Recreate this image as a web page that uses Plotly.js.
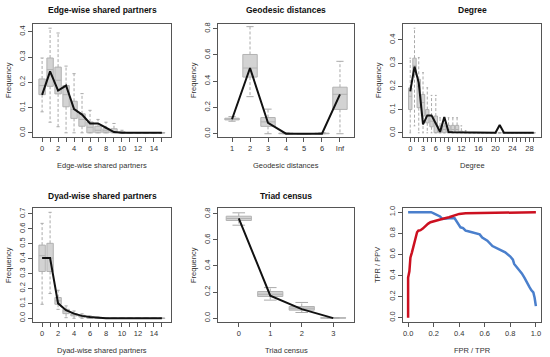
<!DOCTYPE html>
<html><head><meta charset="utf-8">
<script src="https://cdn.plot.ly/plotly-3.0.1.min.js"></script>
<style>body{margin:0;background:#fff}#chart{width:550px;height:357px}</style>
</head><body><div id="chart"></div>
<script>
// ---- Edge-wise shared partners ----
const espX    = [0,1,2,3,4,5,6,7,8,9,10,11,12,13,14,15];
const espLine = [0.150,0.243,0.167,0.187,0.094,0.072,0.037,0.037,0.020,0.003,0,0,0,0,0,0];
const espLow  = [0.083,0.042,0.024,0,0,0,0,0,0,0,0,0,0,0,0,0];
const espQ1   = [0.151,0.184,0.154,0.103,0.057,0.026,0,0,0,0,0,0,0,0,0,0];
const espMed  = [0.187,0.250,0.208,0.151,0.092,0.053,0.022,0.010,0.008,0.003,0,0,0,0,0,0];
const espQ3   = [0.213,0.296,0.260,0.187,0.125,0.075,0.043,0.026,0.016,0.016,0.004,0,0,0,0,0];
const espHigh = [0.296,0.414,0.395,0.264,0.234,0.155,0.089,0.053,0.042,0.037,0.010,0,0,0,0,0];
const espTickText = ['0','','2','','4','','6','','8','','10','','12','','14',''];

// ---- Geodesic distances ----
const geoX    = [1,2,3,4,5,6,7];
const geoTickText = ['1','2','3','4','5','6','Inf'];
const geoLine = [0.110,0.500,0.082,0,0,0,0.300];
const geoLow  = [0.095,0.282,0,0,0,0,0];
const geoQ1   = [0.105,0.431,0.056,0,0,0,0.185];
const geoMed  = [0.112,0.500,0.090,0.002,0,0.002,0.300];
const geoQ3   = [0.118,0.603,0.123,0.004,0,0.004,0.354];
const geoHigh = [0.130,0.815,0.187,0.008,0,0.008,0.551];

// ---- Degree ----
const degX    = [0,1,2,3,4,5,6,7,8,9,10,11,12,13,14,15,16,17,18,19,20,21,22,23,24,25,26,27,28,29];
const degLine = [0.178,0.285,0.215,0.036,0.075,0.075,0.040,0.004,0.068,0.003,0.002,0.002,0,0,0,0,0,0,0,0,0,0.034,0,0,0,0,0,0,0,0];
const degLow  = [0,0.030,0,0,0,0,0,0,0,0,0,0,0,0,0,0,0,0,0,0,0,0,0,0,0,0,0,0,0,0];
const degQ1   = [0.100,0.250,0.108,0.072,0.043,0.026,0,0,0,0,0,0,0,0,0,0,0,0,0,0,0,0,0,0,0,0,0,0,0,0];
const degMed  = [0.157,0.290,0.200,0.130,0.072,0.050,0.043,0.014,0.014,0.014,0.014,0.014,0.003,0,0,0,0,0,0,0,0,0,0,0,0,0,0,0,0,0];
const degQ3   = [0.193,0.321,0.230,0.165,0.100,0.072,0.072,0.029,0.029,0.032,0.032,0.032,0.007,0.003,0,0,0,0,0,0,0,0,0,0,0,0,0,0,0,0];
const degHigh = [0.321,0.450,0.324,0.259,0.194,0.161,0.161,0.065,0.065,0.065,0.065,0.065,0.030,0.010,0,0,0,0,0,0,0,0,0,0,0,0,0,0,0,0];
const degTickText = ['0','','','3','','','6','','','9','','','12','','','','16','','','','20','','','','24','','','','28',''];

// ---- Dyad-wise shared partners ----
const dspX    = [0,1,2,3,4,5,6,7,8,9,10,11,12,13,14,15];
const dspLine = [0.404,0.404,0.100,0.054,0.031,0.016,0.009,0.004,0,0,0,0,0,0,0,0];
const dspLow  = [0.094,0.166,0.060,0.004,0,0,0,0,0,0,0,0,0,0,0,0];
const dspQ1   = [0.314,0.314,0.094,0.031,0.016,0.008,0,0,0,0,0,0,0,0,0,0];
const dspMed  = [0.420,0.404,0.117,0.049,0.025,0.012,0.004,0,0,0,0,0,0,0,0,0];
const dspQ3   = [0.491,0.503,0.139,0.060,0.031,0.020,0.008,0.003,0,0,0,0,0,0,0,0];
const dspHigh = [0.637,0.711,0.188,0.083,0.049,0.030,0.016,0.008,0,0,0,0,0,0,0,0];

// ---- Triad census ----
const triX    = [0,1,2,3];
const triLine = [0.766,0.172,0.069,0];
const triLow  = [0.713,0.138,0.043,0];
const triQ1   = [0.749,0.166,0.061,0];
const triMed  = [0.764,0.183,0.076,0.001];
const triQ3   = [0.782,0.204,0.089,0.002];
const triHigh = [0.808,0.234,0.120,0.004];

// ---- ROC / PR ----
const rocFpr = [0,0,0.010,0.018,0.030,0.045,0.058,0.070,0.080,0.097,0.115,0.136,0.155,0.175,0.200,0.240,0.280,0.320,0.360,0.400,0.450,0.550,0.660,0.760,0.870,1.0];
const rocTpr = [0,0.38,0.44,0.57,0.62,0.70,0.76,0.81,0.825,0.83,0.845,0.87,0.89,0.905,0.915,0.927,0.94,0.952,0.968,0.984,0.99,0.992,0.994,0.996,1.0,1.0];
const prTpr = [0,0.05,0.10,0.15,0.18,0.20,0.228,0.250,0.267,0.290,0.306,0.340,0.364,0.385,0.410,0.430,0.450,0.470,0.500,0.540,0.560,0.580,0.620,0.660,0.710,0.760,0.800,0.820,0.830,0.850,0.870,0.890,0.910,0.930,0.950,0.965,0.980,0.990,1.0];
const prPpv = [1.0,1.0,1.0,1.0,1.0,0.99,0.975,0.96,0.937,0.94,0.943,0.945,0.943,0.905,0.857,0.85,0.825,0.82,0.81,0.79,0.79,0.76,0.73,0.68,0.65,0.62,0.58,0.55,0.51,0.48,0.46,0.42,0.38,0.33,0.29,0.26,0.24,0.19,0.11];

const W = 550, H = 357;
const traces = [];
const layout = {
  width: W, height: H, margin: {l:0, r:0, t:0, b:0},
  paper_bgcolor: '#fff', plot_bgcolor: '#fff', showlegend: false,
  font: {family: 'Liberation Sans, Arial, sans-serif', size: 7.5, color: '#333'},
  annotations: []
};
const frameColor = '#555';

function axisPair(id, px0, px1, py0, py1, xr, yr, xt, yt) {
  const xk = 'xaxis' + id, yk = 'yaxis' + id;
  const xa = 'x' + id, ya = 'y' + id;
  layout[xk] = {
    domain: [px0 / W, px1 / W], range: xr, anchor: ya,
    showline: true, mirror: true, linecolor: frameColor, linewidth: 1,
    ticks: 'outside', ticklen: 4, tickcolor: frameColor, tickwidth: 1,
    showgrid: false, zeroline: false, fixedrange: true,
    tickvals: xt.vals, ticktext: xt.text, tickfont: {size: 7.5, color: '#333'}
  };
  layout[yk] = {
    domain: [1 - py1 / H, 1 - py0 / H], range: yr, anchor: xa,
    showline: true, mirror: true, linecolor: frameColor, linewidth: 1,
    ticks: 'outside', ticklen: 4, tickcolor: frameColor, tickwidth: 1,
    showgrid: false, zeroline: false, fixedrange: true,
    tickvals: yt, tickformat: '.1f', tickangle: -90, tickfont: {size: 7.5, color: '#333'}
  };
  return [xa, ya];
}

function boxPanel(id, xs, low, q1, med, q3, high, line) {
  const xa = 'x' + id, ya = 'y' + id;
  traces.push({
    type: 'box', orientation: 'v', x: xs, q1: q1, median: med, q3: q3,
    lowerfence: q1, upperfence: q3, width: 0.8, whiskerwidth: 0,
    boxpoints: false, fillcolor: '#d3d3d3', line: {color: '#b2b2b2', width: 1},
    xaxis: xa, yaxis: ya, hoverinfo: 'skip', showlegend: false
  });
  const wx = [], wy = [], cx = [], cy = [];
  xs.forEach((x, i) => {
    wx.push(x, x, null, x, x, null);
    wy.push(q3[i], high[i], null, q1[i], low[i], null);
    cx.push(x - 0.2, x + 0.2, null, x - 0.2, x + 0.2, null);
    cy.push(high[i], high[i], null, low[i], low[i], null);
  });
  traces.push({type: 'scatter', mode: 'lines', x: wx, y: wy, xaxis: xa, yaxis: ya,
    line: {color: '#aaaaaa', width: 1, dash: '3px,2px'}, hoverinfo: 'skip', connectgaps: false});
  traces.push({type: 'scatter', mode: 'lines', x: cx, y: cy, xaxis: xa, yaxis: ya,
    line: {color: '#aaaaaa', width: 1}, hoverinfo: 'skip', connectgaps: false});
  traces.push({type: 'scatter', mode: 'lines', x: xs, y: line, xaxis: xa, yaxis: ya,
    line: {color: '#111', width: 2}, hoverinfo: 'skip'});
}

function ann(text, px, py, size, bold, angle) {
  layout.annotations.push({
    text: bold ? '<b>' + text + '</b>' : text, xref: 'paper', yref: 'paper',
    x: px / W, y: 1 - py / H, xanchor: 'center', yanchor: 'middle',
    showarrow: false, textangle: angle || 0,
    font: {size: size, color: bold ? '#111' : '#333'}
  });
}

const t1 = [0, 0.1, 0.2, 0.3, 0.4];
const t2 = [0, 0.2, 0.4, 0.6, 0.8];
const t4 = [0, 0.1, 0.2, 0.3, 0.4, 0.5, 0.6, 0.7];
const t6 = [0, 0.2, 0.4, 0.6, 0.8, 1.0];

// Panel 1
axisPair('', 33, 171, 24, 137, [-1.14, 16.14], [-0.0166, 0.4306], {vals: espX, text: espTickText}, t1);
boxPanel('', espX, espLow, espQ1, espMed, espQ3, espHigh, espLine);
// Panel 2
axisPair('2', 218, 354, 24, 137, [0.22, 7.78], [-0.025, 0.835], {vals: geoX, text: geoTickText}, t2);
boxPanel('2', geoX, geoLow, geoQ1, geoMed, geoQ3, geoHigh, geoLine);
// Panel 3
axisPair('3', 403, 541, 24, 137, [-1.7, 30.7], [-0.018, 0.468], {vals: degX, text: degTickText}, t1);
boxPanel('3', degX, degLow, degQ1, degMed, degQ3, degHigh, degLine);
// Panel 4
axisPair('4', 33, 171, 208, 322, [-1.14, 16.14], [-0.025, 0.74], {vals: dspX, text: espTickText}, t4);
boxPanel('4', dspX, dspLow, dspQ1, dspMed, dspQ3, dspHigh, dspLine);
// Panel 5
axisPair('5', 218, 354, 208, 322, [-0.66, 3.66], [-0.03, 0.845], {vals: triX, text: ['0','1','2','3']}, t2);
boxPanel('5', triX, triLow, triQ1, triMed, triQ3, triHigh, triLine);
// Panel 6
axisPair('6', 403, 541, 208, 322, [-0.04, 1.04], [-0.04, 1.04], {vals: t6, text: t6.map(v => v.toFixed(1))}, t6);
traces.push({type: 'scatter', mode: 'lines', x: prTpr, y: prPpv, xaxis: 'x6', yaxis: 'y6',
  line: {color: '#4a7fcc', width: 2.5}, hoverinfo: 'skip'});
traces.push({type: 'scatter', mode: 'lines', x: rocFpr, y: rocTpr, xaxis: 'x6', yaxis: 'y6',
  line: {color: '#cc1020', width: 2.5}, hoverinfo: 'skip'});

// Titles and axis labels
ann('Edge-wise shared partners', 102, 10, 8.5, true);
ann('Geodesic distances', 286, 10, 8.5, true);
ann('Degree', 472, 10, 8.5, true);
ann('Dyad-wise shared partners', 102, 196, 8.5, true);
ann('Triad census', 286, 196, 8.5, true);

ann('Edge-wise shared partners', 102, 165, 7.5, false);
ann('Geodesic distances', 286, 165, 7.5, false);
ann('Degree', 472, 165, 7.5, false);
ann('Dyad-wise shared partners', 102, 350, 7.5, false);
ann('Triad census', 286, 350, 7.5, false);
ann('FPR / TPR', 472, 350, 7.5, false);

ann('Frequency', 8, 80, 7.5, false, -90);
ann('Frequency', 193, 80, 7.5, false, -90);
ann('Frequency', 378, 80, 7.5, false, -90);
ann('Frequency', 8, 265, 7.5, false, -90);
ann('Frequency', 193, 265, 7.5, false, -90);
ann('TPR / PPV', 377, 265, 7.5, false, -90);

Plotly.newPlot('chart', traces, layout, {staticPlot: true, displayModeBar: false});
</script></body></html>
